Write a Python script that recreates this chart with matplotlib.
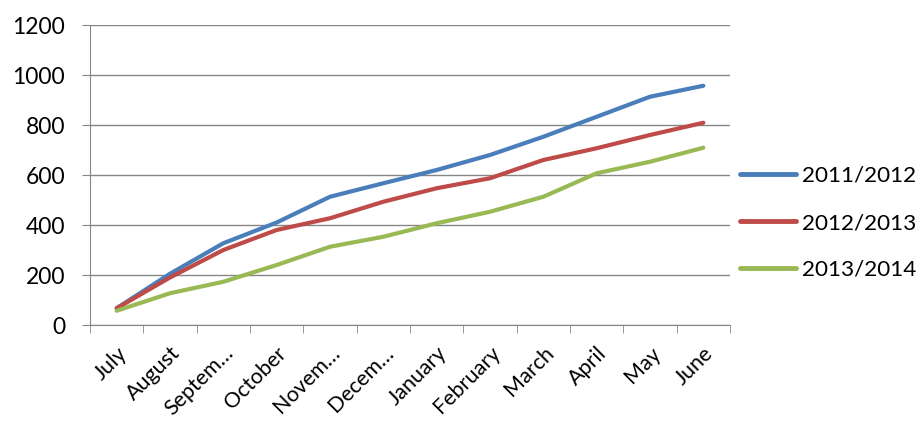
import matplotlib
matplotlib.use("Agg")
import matplotlib.pyplot as plt
from matplotlib.ticker import FixedLocator

plt.rcParams['font.family'] = ['Lato', 'DejaVu Sans']

months = ["July", "August", "Septem…", "October", "Novem…", "Decem…",
          "January", "February", "March", "April", "May", "June"]
s2011 = [67, 205, 327, 410, 513, 567, 620, 680, 753, 833, 913, 957]
s2012 = [67, 190, 300, 380, 427, 493, 547, 587, 660, 707, 760, 809]
s2013 = [57, 127, 173, 240, 313, 353, 407, 453, 513, 607, 653, 709]
series = [("2011/2012", s2011, "#4A7EBB"),
          ("2012/2013", s2012, "#BE4B48"),
          ("2013/2014", s2013, "#98B954")]

fig = plt.figure(figsize=(9.21, 4.30), dpi=100)
ax = fig.add_axes([90/921, 1-325/430, 640/921, 300/430])

x = list(range(len(months)))
for name, vals, col in series:
    ax.plot(x, vals, color=col, lw=3.0, label=name, solid_capstyle='round')

ax.set_xlim(-0.5, len(months) - 0.5)
ax.set_ylim(0, 1200)
ax.set_yticks(range(0, 1201, 200))
ax.grid(axis='y', color='#868686', lw=1.0)
ax.set_axisbelow(True)

ax.set_xticks(x)
ax.set_xticklabels(months, rotation=45, ha='right', va='top', rotation_mode='anchor', fontsize=15.5)
ax.tick_params(axis='x', which='major', length=0, pad=13)
ax.xaxis.set_minor_locator(FixedLocator([i - 0.5 for i in range(len(months) + 1)]))
ax.tick_params(axis='x', which='minor', length=6, color='#868686', direction='out')
ax.tick_params(axis='y', length=6, color='#868686', labelsize=16.5, pad=12)

for side in ['top', 'right']:
    ax.spines[side].set_visible(False)
for side in ['left', 'bottom']:
    ax.spines[side].set_color('#868686')

leg = ax.legend(loc='center left', bbox_to_anchor=(1.016, 0.34), frameon=False,
                fontsize=16.2, handlelength=2.5, labelspacing=1.2, handletextpad=0.25,
                borderaxespad=0, borderpad=0)
for l in leg.get_lines():
    l.set_linewidth(3.5)

fig.savefig("out.png", dpi=100)
